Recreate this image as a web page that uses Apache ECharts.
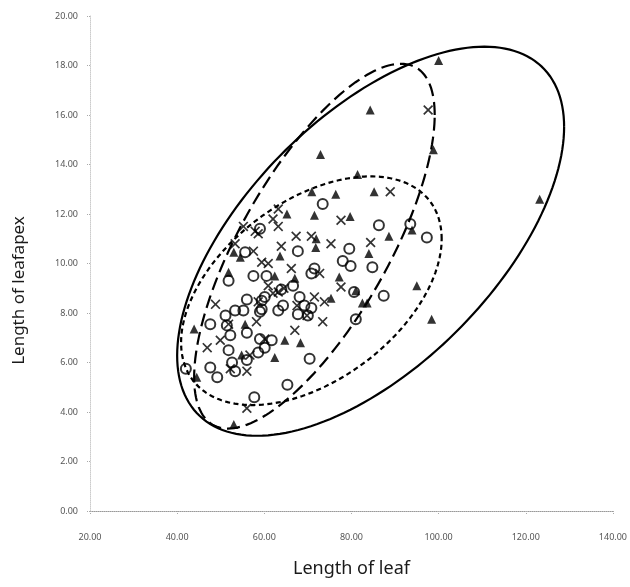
<!DOCTYPE html>
<html lang="en">
<head>
    <meta charset="UTF-8">
    <title>Length of leaf vs leaf apex</title>
    <script src="https://cdn.jsdelivr.net/npm/echarts@6/dist/echarts.min.js"></script>
    <style>
        html, body { margin: 0; padding: 0; background: #fff; }
        #chart { width: 630px; height: 587px; }
    </style>
</head>
<body>
    <div id="chart"></div>
    <script>
        // 散点数据 (length of leaf, length of leaf apex)
        const triangles = [
            [100.0, 18.2], [98.8, 14.6], [123.2, 12.6], [84.3, 16.2], [72.9, 14.4],
            [81.4, 13.6], [70.9, 12.9], [76.4, 12.8], [71.5, 11.95], [65.2, 12.0],
            [79.7, 11.9], [71.8, 10.65], [63.6, 10.3], [53.0, 10.45], [54.5, 10.25],
            [51.8, 9.65], [62.4, 9.5], [77.2, 9.45], [85.2, 12.9], [88.6, 11.1],
            [84.0, 10.4], [95.0, 9.1], [82.5, 8.4], [83.6, 8.4], [98.4, 7.75],
            [93.9, 11.35], [71.9, 11.0], [75.3, 8.6], [81.0, 8.9], [64.7, 6.9],
            [68.3, 6.8], [62.4, 6.2], [55.6, 7.55], [43.9, 7.35], [44.5, 5.4],
            [53.0, 3.5], [67.0, 9.4], [54.8, 6.3]
        ];
        const crosses = [
            [63.2, 12.2], [62.0, 11.8], [63.2, 11.5], [55.2, 11.5], [57.9, 11.3],
            [58.6, 11.2], [67.3, 11.1], [70.8, 11.1], [75.3, 10.8], [63.9, 10.7],
            [57.5, 10.5], [53.3, 10.8], [59.4, 10.05], [60.9, 10.0], [66.2, 9.8],
            [77.6, 11.75], [72.7, 9.6], [77.6, 9.05], [60.9, 9.1], [63.2, 8.85],
            [71.5, 8.65], [88.9, 12.9], [84.4, 10.85], [73.8, 8.45], [73.4, 7.65],
            [97.6, 16.2], [48.8, 8.35], [58.6, 8.45], [51.8, 7.55], [58.2, 7.65],
            [67.0, 7.3], [49.9, 6.9], [46.9, 6.6], [60.1, 6.95], [52.2, 5.75],
            [56.0, 5.65], [56.7, 6.3], [56.0, 4.15], [62.0, 8.8], [64.5, 9.0],
            [67.5, 8.3], [69.8, 7.9]
        ];
        const circles = [
            [73.4, 12.4], [59.0, 11.4], [79.5, 10.6], [78.0, 10.1], [67.7, 10.5],
            [55.6, 10.45], [57.5, 9.5], [51.8, 9.3], [60.5, 9.5], [71.5, 9.8],
            [70.8, 9.6], [80.6, 8.85], [56.0, 8.55], [60.1, 8.65], [63.9, 8.95],
            [66.6, 9.1], [68.1, 8.65], [86.3, 11.55], [84.8, 9.85], [93.5, 11.6],
            [97.3, 11.05], [87.4, 8.7], [81.0, 7.75], [59.4, 8.5], [53.3, 8.1],
            [55.2, 8.1], [51.1, 7.9], [59.0, 8.05], [63.2, 8.1], [64.3, 8.3],
            [69.2, 8.3], [70.8, 8.2], [67.7, 7.95], [70.0, 7.9], [47.6, 7.55],
            [51.4, 7.5], [52.2, 7.1], [56.0, 7.2], [59.0, 6.95], [61.7, 6.9],
            [60.1, 6.6], [51.8, 6.5], [56.0, 6.1], [58.6, 6.4], [52.6, 6.0],
            [53.3, 5.65], [47.6, 5.8], [49.2, 5.4], [42.0, 5.75], [70.4, 6.15],
            [65.3, 5.1], [57.7, 4.6], [79.8, 9.9], [59.4, 8.15]
        ];

        // 置信椭圆: 中心, x/y 半幅, 相位(度)
        const ellipseCx = [84.4, 71.5, 70.8];
        const ellipseCy = [10.9, 10.7, 8.9];
        const ellipseRx = [44.4, 27.6, 29.9];
        const ellipseRy = [7.86, 7.37, 4.62];
        const ellipsePhase = [54, 44, 63];
        const ellipseDash = [null, [13, 6], [5, 3.5]];

        // 刻度
        const xTicks = [20, 40, 60, 80, 100, 120, 140];
        const yTicks = [0, 2, 4, 6, 8, 10, 12, 14, 16, 18, 20];

        const crossPath = 'path://M0,1.2L1.2,0L5,3.8L8.8,0L10,1.2L6.2,5L10,8.8L8.8,10L5,6.2L1.2,10L0,8.8L3.8,5Z';

        const chart = echarts.init(document.getElementById('chart'));

        const option = {
            backgroundColor: '#fff',
            animation: false,
            grid: { left: 90, right: 12, top: 16, bottom: 76 },
            xAxis: {
                type: 'value',
                min: xTicks[0],
                max: xTicks[xTicks.length - 1],
                interval: 20,
                name: 'Length of leaf',
                nameLocation: 'middle',
                nameGap: 49,
                nameTextStyle: { fontFamily: 'Noto Sans', fontSize: 18, color: '#1a1a1a' },
                axisLine: { lineStyle: { color: '#999', type: 'dotted', width: 1 } },
                axisTick: { show: true, length: 3, lineStyle: { color: '#aaa', type: 'dotted' } },
                axisLabel: {
                    margin: 22,
                    fontFamily: 'Noto Sans',
                    fontSize: 9,
                    color: '#555',
                    formatter: v => v.toFixed(2)
                },
                splitLine: { show: false }
            },
            yAxis: {
                type: 'value',
                min: yTicks[0],
                max: yTicks[yTicks.length - 1],
                interval: 2,
                name: 'Length of leafapex',
                nameLocation: 'middle',
                nameGap: 62,
                nameTextStyle: { fontFamily: 'Noto Sans', fontSize: 17, color: '#1a1a1a', padding: [0, 54, 0, 0] },
                axisLine: { show: true, lineStyle: { color: '#ccc', type: 'dotted', width: 1 } },
                axisTick: { show: true, length: 4, lineStyle: { color: '#aaa', type: 'dotted' } },
                axisLabel: {
                    margin: 12,
                    fontFamily: 'Noto Sans',
                    fontSize: 9,
                    color: '#555',
                    formatter: v => v.toFixed(2)
                },
                splitLine: { show: false }
            },
            series: [
                {
                    type: 'custom',
                    data: ellipseCx.map((cx, i) => [cx, ellipseCy[i], ellipseRx[i], ellipseRy[i], ellipsePhase[i]]),
                    encode: { x: 0, y: 1 },
                    silent: true,
                    z: 1,
                    renderItem: function (params, api) {
                        const cx = api.value(0), cy = api.value(1);
                        const rx = api.value(2), ry = api.value(3);
                        const ph = api.value(4) * Math.PI / 180;
                        const pts = [];
                        for (let i = 0; i <= 180; i++) {
                            const t = i / 180 * Math.PI * 2;
                            pts.push(api.coord([cx + rx * Math.cos(t), cy + ry * Math.cos(t - ph)]));
                        }
                        return {
                            type: 'polyline',
                            shape: { points: pts },
                            style: {
                                stroke: '#000',
                                lineWidth: 2.2,
                                lineDash: ellipseDash[params.dataIndex],
                                fill: null
                            }
                        };
                    }
                },
                {
                    type: 'scatter',
                    data: triangles,
                    symbol: 'triangle',
                    symbolSize: [9, 9],
                    itemStyle: { color: '#000' },
                    z: 3
                },
                {
                    type: 'scatter',
                    data: crosses,
                    symbol: crossPath,
                    symbolSize: 10,
                    itemStyle: { color: '#000' },
                    z: 3
                },
                {
                    type: 'scatter',
                    data: circles,
                    symbol: 'circle',
                    symbolSize: 10,
                    itemStyle: { color: 'rgba(255,255,255,0)', borderColor: '#000', borderWidth: 2 },
                    z: 3
                }
            ]
        };
        chart.setOption(option);
    </script>
</body>
</html>
